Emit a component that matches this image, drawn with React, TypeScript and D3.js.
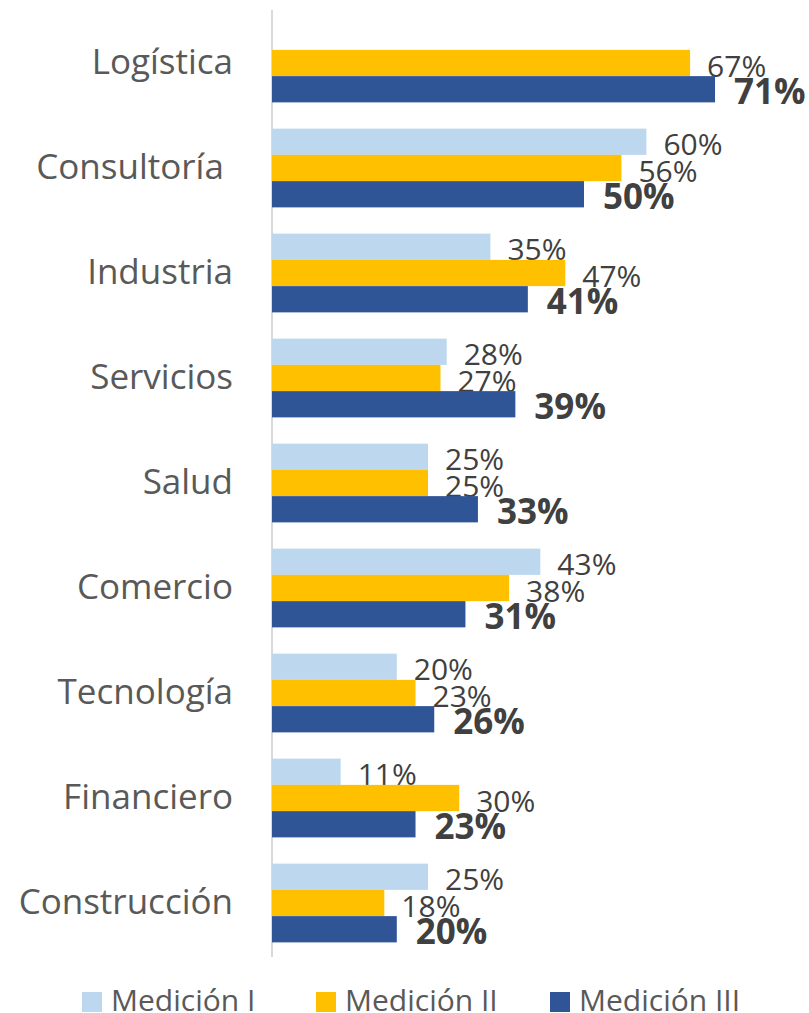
import React from 'react';
import * as d3 from 'd3';

const categories = ['Logística', 'Consultoría ', 'Industria', 'Servicios', 'Salud', 'Comercio', 'Tecnología', 'Financiero', 'Construcción'];
const series = ['Medición I', 'Medición II', 'Medición III'];
const medicion1 = [null, 60, 35, 28, 25, 43, 20, 11, 25];
const medicion2 = [67, 56, 47, 27, 25, 38, 23, 30, 18];
const medicion3 = [71, 50, 41, 39, 33, 31, 26, 23, 20];
const colors = ['#BDD7EE', '#FFC000', '#2F5597'];

const W = 809;
const H = 1013;
const font = '"Open Sans", "DejaVu Sans", sans-serif';

const App = () => {
  const values = [medicion1, medicion2, medicion3];

  const x = d3.scaleLinear().domain([0, 100]).range([272, 896]);
  const y0 = d3.scaleBand().domain(categories).range([10.5, 955.5]).paddingInner(0.25).paddingOuter(0.125);
  const y1 = d3.scaleBand().domain(series).range([0, y0.bandwidth()]);

  const legendX = [82, 316, 550];

  return (
    <svg width={W} height={H} style={{ position: 'absolute', left: 0, top: 0, background: '#fff' }}>
      <line x1={x(0)} x2={x(0)} y1={10} y2={957} stroke="#D9D9D9" strokeWidth={2} />
      {categories.map((c, i) => {
        const gy = y0(c)!;
        return (
          <g key={c}>
            <text
              x={233}
              y={gy + y0.bandwidth() / 2 + 11}
              textAnchor="end"
              fontFamily={font}
              fontSize={35}
              fill="#595959"
              style={{ whiteSpace: 'pre' }}
            >
              {c}
            </text>
            {series.map((s, j) => {
              const v = values[j][i];
              if (v == null) return null;
              const by = gy + y1(s)!;
              const bh = y1.bandwidth();
              const bold = j === 2;
              return (
                <g key={s}>
                  <rect x={x(0)} y={by} width={x(v) - x(0)} height={bh} fill={colors[j]} />
                  <text
                    x={x(v) + (bold ? 19 : 17)}
                    y={by + bh / 2 + (bold ? 15 : 13.5)}
                    fontFamily={font}
                    fontSize={bold ? 35 : 30}
                    fontWeight={bold ? 700 : 400}
                    fill="#404040"
                  >
                    {v}%
                  </text>
                </g>
              );
            })}
          </g>
        );
      })}
      {series.map((s, j) => (
        <g key={s} transform={`translate(${legendX[j]},0)`}>
          <rect x={0} y={992} width={20} height={20} fill={colors[j]} />
          <text x={29} y={1011} fontFamily={font} fontSize={30} fill="#595959">
            {s}
          </text>
        </g>
      ))}
    </svg>
  );
};

export default App;
